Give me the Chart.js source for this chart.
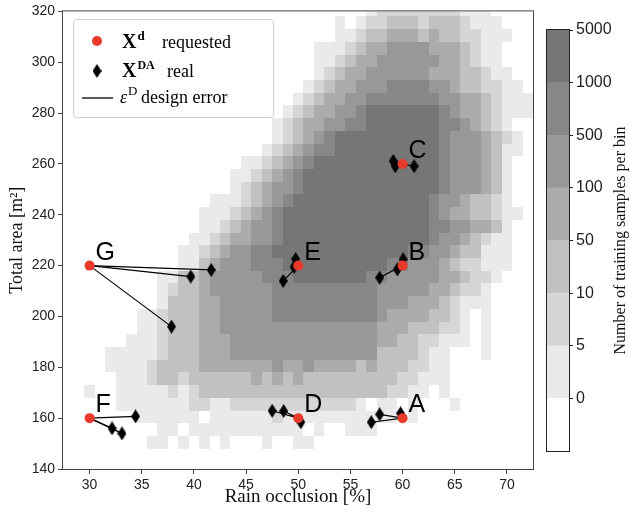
<!DOCTYPE html>
<html>
<head>
<meta charset="utf-8">
<script src="https://cdn.jsdelivr.net/npm/chart.js@4.4.1/dist/chart.umd.min.js"></script>
<style>
  html, body { margin: 0; padding: 0; background: #fff; }
  #wrap { position: relative; width: 630px; height: 512px; }
  #main { position: absolute; left: 0; top: 0; }
  #cbar { position: absolute; left: 540px; top: 0; }
</style>
</head>
<body>
<div id="wrap">
  <canvas id="main" width="630" height="512"></canvas>
  <canvas id="cbar" width="90" height="512"></canvas>
</div>
<script>
// ── Data ─────────────────────────────────────────────────────────

// requested designs X^d
const caseNames  = ['A', 'B', 'C', 'D', 'E', 'F', 'G'];
const requestedX = [60, 60, 60, 50, 50, 30, 30];
const requestedY = [160, 220, 260, 160, 220, 160, 220];

// realised designs X^DA (realCase = index into the requested lists)
const realCase = [0, 0, 0, 1, 1, 1, 2, 2, 2, 3, 3, 3, 4, 4, 4, 5, 5, 5, 6, 6, 6];
const realX = [57.0, 57.8, 59.8, 60.05, 59.5, 57.8, 59.1, 59.3, 61.1, 47.5, 48.6, 50.25, 49.75, 49.6, 48.55, 34.4, 32.15, 33.1, 41.65, 39.7, 37.85];
const realY = [158.4, 161.5, 161.9, 222.5, 218.5, 215.3, 261.2, 259.1, 259.1, 162.9, 162.8, 158.4, 222.6, 219.5, 214.0, 160.7, 156.0, 154.0, 218.3, 215.7, 196.0];

// 2D histogram of training samples: bin edges and class per bin
// (0 = empty, 1 = 0-5, 2 = 5-10, 3 = 10-50, 4 = 50-100, 5 = 100-500, 6 = 500-1000, 7 = 1000-5000)
// rows listed from the top (318-323) down to the bottom (148-153), 45 columns from x = 27.5
const binX0 = 27.5, binW = 1;
const binY0 = 148,  binH = 5;
const heatRows = [
  '00000 00000 00000 00000 00000 00001 22222 22211 10000',
  '00000 00000 00000 00000 00000 01012 23332 33321 11000',
  '00000 00000 00000 00000 00000 01123 34443 43322 11100',
  '00000 00000 00000 00000 00001 11234 45555 44432 11000',
  '00000 00000 00000 00000 00001 12344 55555 54432 11000',
  '00000 00000 00000 00000 00001 23445 55555 44433 21100',
  '00000 00000 00000 00000 00012 34455 56666 55433 22110',
  '00000 00000 00000 00000 00123 44556 66666 65544 32111',
  '00000 00000 00000 00000 01234 45567 77777 76544 32111',
  '00000 00000 00000 00000 12344 55667 77777 76654 32100',
  '00000 00000 00000 00000 12345 67777 77777 76555 43210',
  '00000 00000 00000 00001 23456 67777 77777 76555 43110',
  '00000 00000 00000 00112 34567 77777 77777 76555 43100',
  '00000 00000 00000 01123 45677 77777 77777 76555 43100',
  '00000 00000 00000 01234 55677 77777 77777 76555 43100',
  '00000 00000 00001 11234 56777 77777 77777 65543 32100',
  '00000 00000 00011 12345 67777 77777 77777 65443 32110',
  '00000 00000 00011 23455 67777 77777 77777 66554 43100',
  '00000 00000 00112 34455 67777 77777 77777 65543 21100',
  '00000 00000 01123 45566 77777 77777 77766 55433 11100',
  '00000 00000 01134 55566 67777 77777 76655 54322 11100',
  '00000 00001 13345 55556 66777 77776 65555 54432 21000',
  '00000 00001 23345 55555 66666 66666 55555 44322 10000',
  '00000 00001 33344 55555 66666 66666 55544 43211 10000',
  '00000 00112 33344 55555 66666 66666 54444 33210 10000',
  '00000 00112 33344 55555 55555 55555 44433 32210 10000',
  '00000 01112 33344 45555 55555 55555 44332 21110 10000',
  '00001 11112 33344 45555 55555 55555 33332 11000 10000',
  '00001 11123 33344 44444 54454 44434 33322 11000 00000',
  '00000 11123 32333 33343 43433 33333 33221 11000 00000',
  '00100 11111 21233 33333 33333 33333 32211 01000 00000',
  '00000 11111 11221 12222 22222 22210 11010 00100 00000',
  '00000 00111 11101 11111 21111 11111 11010 00000 00000',
  '00000 00001 10111 11111 11101 00111 00000 00000 00000',
  '00000 00011 01010 10001 00110 00000 00000 00000 00000',
].map(s => s.replace(/ /g, ''));

const levelColors = ['#ffffff', '#eaeaea', '#d6d6d6', '#c1c1c1', '#ababab', '#989898', '#878787', '#767676'];
const cbarLabels  = ['0', '5', '10', '50', '100', '500', '1000', '5000'];

const xTicks = [30, 35, 40, 45, 50, 55, 60, 65, 70];

// ── Styling helpers ──────────────────────────────────────────────
const SANS  = '"Liberation Sans", Arial, sans-serif';
const SERIF = '"Liberation Serif", "Times New Roman", serif';
const RED   = '#e8392b';
const AXIS  = '#444444';

// thin diamond marker (matplotlib 'd')
const diamond = document.createElement('canvas');
diamond.width = 9; diamond.height = 14;
(() => {
  const c = diamond.getContext('2d');
  c.fillStyle = '#000';
  c.beginPath();
  c.moveTo(4.5, 0); c.lineTo(9, 7); c.lineTo(4.5, 14); c.lineTo(0, 7);
  c.closePath(); c.fill();
})();

// ── Plugins ──────────────────────────────────────────────────────
const heatmapPlugin = {
  id: 'heatmap',
  beforeDatasetsDraw(chart) {
    const { ctx, chartArea: a, scales: { x, y } } = chart;
    ctx.save();
    ctx.beginPath();
    ctx.rect(a.left, a.top, a.width, a.height);
    ctx.clip();
    const n = heatRows.length;
    heatRows.forEach((row, i) => {
      const yLo = binY0 + (n - 1 - i) * binH;
      const top = Math.round(y.getPixelForValue(yLo + binH));
      const bot = Math.round(y.getPixelForValue(yLo));
      for (let k = 0; k < row.length; k++) {
        const lv = +row[k];
        if (!lv) continue;
        const l = Math.round(x.getPixelForValue(binX0 + k * binW));
        const r = Math.round(x.getPixelForValue(binX0 + (k + 1) * binW));
        ctx.fillStyle = levelColors[lv];
        ctx.fillRect(l, top, r - l, bot - top);
      }
    });
    ctx.restore();
  },
};

const framePlugin = {
  id: 'frame',
  afterDatasetsDraw(chart) {
    const { ctx, chartArea: a } = chart;
    ctx.save();
    ctx.strokeStyle = AXIS;
    ctx.lineWidth = 1;
    ctx.strokeRect(a.left - 0.5, a.top - 0.5, a.width + 1, a.height + 1);
    ctx.restore();
  },
};

const caseLabelPlugin = {
  id: 'caseLabels',
  afterDatasetsDraw(chart) {
    const ctx = chart.ctx;
    const meta = chart.getDatasetMeta(0);
    ctx.save();
    ctx.font = '25px ' + SANS;
    ctx.fillStyle = '#000';
    ctx.textBaseline = 'alphabetic';
    meta.data.forEach((pt, i) => ctx.fillText(caseNames[i], pt.x + 6, pt.y - 6));
    ctx.restore();
  },
};

const legendPlugin = {
  id: 'mathLegend',
  afterDraw(chart) {
    const ctx = chart.ctx;
    ctx.save();
    ctx.fillStyle = 'rgba(255,255,255,0.85)';
    ctx.strokeStyle = '#cfcfcf';
    ctx.lineWidth = 1;
    ctx.beginPath();
    if (ctx.roundRect) ctx.roundRect(73.5, 19.5, 200, 98, 3); else ctx.rect(73.5, 19.5, 200, 98);
    ctx.fill(); ctx.stroke();

    // markers
    ctx.fillStyle = RED;
    ctx.beginPath(); ctx.arc(97, 41, 5, 0, Math.PI * 2); ctx.fill();
    ctx.drawImage(diamond, 92.5, 64);
    ctx.strokeStyle = '#000'; ctx.lineWidth = 1.3;
    ctx.beginPath(); ctx.moveTo(82, 98); ctx.lineTo(113, 98); ctx.stroke();

    ctx.fillStyle = '#000';
    ctx.textBaseline = 'alphabetic';
    // X^d requested
    ctx.font = 'bold 20px ' + SERIF;
    ctx.fillText('X', 122, 48);
    let w = ctx.measureText('X').width;
    ctx.font = 'bold 13px ' + SERIF;
    ctx.fillText('d', 123 + w, 40);
    ctx.font = '18px ' + SERIF;
    ctx.fillText('requested', 162, 48);
    // X^DA real
    ctx.font = 'bold 20px ' + SERIF;
    ctx.fillText('X', 122, 77);
    ctx.font = 'bold 12px ' + SERIF;
    ctx.fillText('DA', 123 + w, 69);
    ctx.font = '18px ' + SERIF;
    ctx.fillText('real', 167, 77);
    // eps^D design error
    ctx.font = 'italic 18px ' + SERIF;
    ctx.fillText('ε', 120, 103);
    w = ctx.measureText('ε').width;
    ctx.font = '13px ' + SERIF;
    ctx.fillText('D', 121 + w, 95);
    ctx.font = '18px ' + SERIF;
    ctx.fillText('design error', 141, 103);
    ctx.restore();
  },
};

// ── Datasets ─────────────────────────────────────────────────────
const requestedPts = requestedX.map((x, i) => ({ x, y: requestedY[i] }));
const realPts = realX.map((x, i) => ({ x, y: realY[i] }));

const errorLines = realPts.map((p, i) => ({
  data: [requestedPts[realCase[i]], p],
  showLine: true,
  borderColor: '#000',
  borderWidth: 1.2,
  pointRadius: 0,
  order: 2,
}));

// ── Main chart ───────────────────────────────────────────────────
new Chart(document.getElementById('main'), {
  type: 'scatter',
  data: {
    datasets: [
      { label: 'requested', data: requestedPts, pointRadius: 5, pointHoverRadius: 5,
        backgroundColor: RED, borderColor: RED, borderWidth: 0, order: 0 },
      { label: 'real', data: realPts, pointStyle: diamond, pointRadius: 6, order: 1 },
      ...errorLines,
    ],
  },
  options: {
    responsive: false,
    animation: false,
    devicePixelRatio: 1,
    layout: { padding: { left: 0, top: 11, right: 97, bottom: 0 } },
    plugins: { legend: { display: false }, tooltip: { enabled: false } },
    scales: {
      x: {
        type: 'linear', min: 27.45, max: 72.5,
        afterFit: s => { s.height = 43; },
        afterBuildTicks: s => { s.ticks = xTicks.map(v => ({ value: v })); },
        ticks: { color: '#222', font: { family: SANS, size: 14 }, padding: 3 },
        grid: { drawOnChartArea: false, tickLength: 5, color: AXIS },
        border: { display: false },
        title: { display: true, text: 'Rain occlusion [%]', color: '#111',
                 font: { family: SERIF, size: 19 }, padding: { bottom: 4 } },
      },
      y: {
        type: 'linear', min: 140, max: 320,
        afterFit: s => { s.width = 63; },
        ticks: { stepSize: 20, color: '#222', font: { family: SANS, size: 14 }, padding: 3 },
        grid: { drawOnChartArea: false, tickLength: 5, color: AXIS },
        border: { display: false },
        title: { display: true, text: 'Total area [m²]', color: '#111',
                 font: { family: SERIF, size: 18 }, padding: { top: 6 } },
      },
    },
  },
  plugins: [heatmapPlugin, framePlugin, caseLabelPlugin, legendPlugin],
});

// ── Colour bar ───────────────────────────────────────────────────
const cbarFrame = {
  id: 'cbarFrame',
  afterDatasetsDraw(chart) {
    const { ctx, chartArea: a } = chart;
    ctx.save();
    ctx.strokeStyle = '#222';
    ctx.lineWidth = 1;
    ctx.strokeRect(a.left - 0.5, a.top - 0.5, a.width + 1, a.height + 1);
    ctx.restore();
  },
};

const cbarTitle = {
  id: 'cbarTitle',
  afterDraw(chart) {
    const { ctx, chartArea: a } = chart;
    ctx.save();
    ctx.translate(81, (a.top + a.bottom) / 2);
    ctx.rotate(-Math.PI / 2);
    ctx.font = '16px ' + SERIF;
    ctx.fillStyle = '#111';
    ctx.textAlign = 'center';
    ctx.textBaseline = 'middle';
    ctx.fillText('Number of training samples per bin', 0, 0);
    ctx.restore();
  },
};

new Chart(document.getElementById('cbar'), {
  type: 'bar',
  data: {
    labels: [''],
    datasets: levelColors.map(c => ({
      data: [1], backgroundColor: c, borderWidth: 0,
      barPercentage: 1, categoryPercentage: 1,
    })),
  },
  options: {
    responsive: false,
    animation: false,
    devicePixelRatio: 1,
    layout: { padding: { left: 7, right: 0, top: 30, bottom: 61 } },
    plugins: { legend: { display: false }, tooltip: { enabled: false } },
    scales: {
      x: { display: false, stacked: true },
      y: {
        stacked: true, position: 'right', min: 0, max: 8,
        afterFit: s => { s.width = 61; },
        afterBuildTicks: s => { s.ticks = cbarLabels.map((_, i) => ({ value: i + 1 })); },
        ticks: { callback: v => cbarLabels[v - 1], color: '#222',
                 font: { family: SANS, size: 16 }, padding: 3 },
        grid: { drawOnChartArea: false, tickLength: 4, color: '#222' },
        border: { display: false },
      },
    },
  },
  plugins: [cbarFrame, cbarTitle],
});
</script>
</body>
</html>
